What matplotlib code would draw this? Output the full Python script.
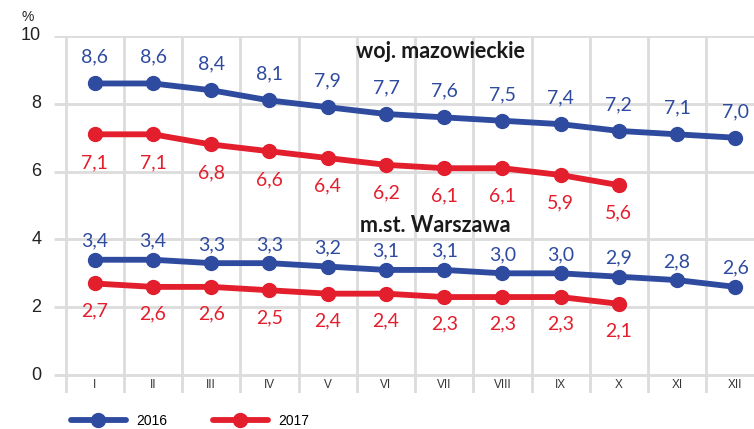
import matplotlib

matplotlib.use("Agg")
import matplotlib.pyplot as plt  # noqa: E402

MONTHS = ["I", "II", "III", "IV", "V", "VI", "VII", "VIII", "IX", "X", "XI", "XII"]
WOJ_2016 = [8.6, 8.6, 8.4, 8.1, 7.9, 7.7, 7.6, 7.5, 7.4, 7.2, 7.1, 7.0]
WOJ_2017 = [7.1, 7.1, 6.8, 6.6, 6.4, 6.2, 6.1, 6.1, 5.9, 5.6]
WAW_2016 = [3.4, 3.4, 3.3, 3.3, 3.2, 3.1, 3.1, 3.0, 3.0, 2.9, 2.8, 2.6]
WAW_2017 = [2.7, 2.6, 2.6, 2.5, 2.4, 2.4, 2.3, 2.3, 2.3, 2.1]
YTICKS = [0, 2, 4, 6, 8, 10]

BLUE = "#2f4b9f"
RED = "#e31e2d"
GRID = "#dcdcdc"
LABEL_FONT = ["Lato", "DejaVu Sans"]
AXIS_FONT = ["Liberation Sans", "DejaVu Sans"]

fig = plt.figure(figsize=(7.54, 4.29), dpi=100)
ax = fig.add_axes([54 / 754, 36 / 429, 700 / 754, 357 / 429])
ax.set_xlim(0.3, 12.32)
ax.set_ylim(-0.53, 10)
ax.axis("off")

# grid: horizontal lines at the y ticks, vertical lines between months
ax.hlines(YTICKS, 0.3, 12.5, color=GRID, lw=2, zorder=0)
ax.vlines([k + 0.5 for k in range(len(MONTHS) + 1)], -0.53, 10, color=GRID, lw=2, zorder=0)

for y in YTICKS:
    ax.text(0.08, y, str(y), ha="right", va="center", fontsize=13,
            family=AXIS_FONT, color="#222222", clip_on=False)
ax.text(-0.15, 10.55, "%", ha="center", va="center", fontsize=10,
        family=AXIS_FONT, color="#222222", clip_on=False)

for i, m in enumerate(MONTHS):
    ax.text(i + 1, -0.28, m, ha="center", va="center", fontsize=8.5,
            family=AXIS_FONT, color="#333333")


def fmt(v):
    return f"{v:.1f}".replace(".", ",")


def draw(values, color, offset, label=None):
    xs = list(range(1, len(values) + 1))
    ax.plot(xs, values, color=color, lw=4.2, marker="o", markersize=10,
            solid_capstyle="round", zorder=3, label=label, clip_on=False)
    for x, v in zip(xs, values):
        ax.text(x, v + offset, fmt(v), ha="center", va="center", fontsize=14,
                family=LABEL_FONT, color=color)


draw(WOJ_2016, BLUE, 0.77, "2016")
draw(WOJ_2017, RED, -0.83, "2017")
draw(WAW_2016, BLUE, 0.55)
draw(WAW_2017, RED, -0.8)

ax.text(6.93, 9.53, "woj. mazowieckie", ha="center", va="center", fontsize=15.5,
        fontweight="bold", family=LABEL_FONT, color="#1a1a1a")
ax.text(6.84, 4.42, "m.st. Warszawa", ha="center", va="center", fontsize=15.5,
        fontweight="bold", family=LABEL_FONT, color="#1a1a1a")

handles = ax.get_lines()[:2]
fig.legend(handles, ["2016", "2017"], loc="center left",
           bbox_to_anchor=(58 / 754, 1 - 421 / 429), ncol=2, frameon=False,
           handlelength=4.0, columnspacing=3.3, handletextpad=0.7,
           prop={"family": AXIS_FONT, "size": 10})

fig.savefig("out.png", dpi=100)
